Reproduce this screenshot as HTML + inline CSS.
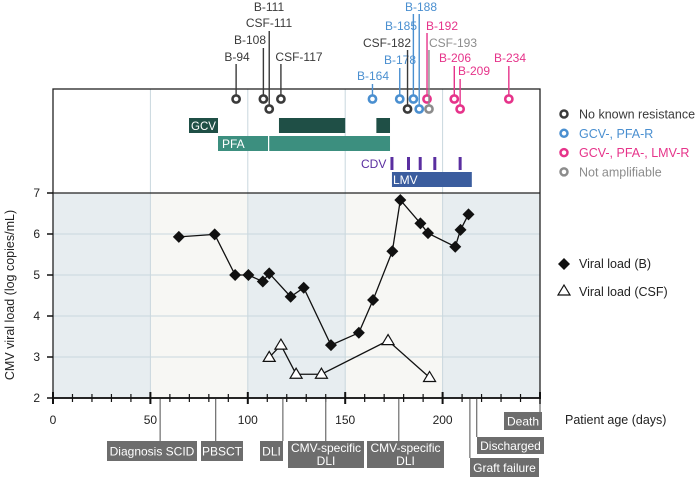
<!DOCTYPE html>
<html><head><meta charset="utf-8"><style>
html,body{margin:0;padding:0;background:#fff;width:700px;height:478px;overflow:hidden}
svg{display:block;font-family:"Liberation Sans",sans-serif}
</style></head><body>
<svg id="c" width="700" height="478" viewBox="0 0 700 478" xmlns="http://www.w3.org/2000/svg"></svg>
<script>
// ---- data ----
const bDays = [64.6, 83, 93.5, 100.3, 107.7, 111, 122, 128.7, 142.7, 157, 164.3, 174.2, 178.3, 188.6, 192.5, 206.5, 209.2, 213.3];
const bLoads = [5.93, 5.99, 5.0, 5.0, 4.84, 5.04, 4.47, 4.69, 3.29, 3.59, 4.39, 5.58, 6.83, 6.26, 6.02, 5.69, 6.1, 6.48];
const csfDays = [111, 117, 124.8, 137.8, 172, 193.3];
const csfLoads = [2.99, 3.29, 2.58, 2.58, 3.4, 2.5];
const xTicks = [0, 50, 100, 150, 200];
const yTicks = [2, 3, 4, 5, 6, 7];
const sampleLabels = ["B-94","B-108","B-111","CSF-111","CSF-117","B-164","B-178","CSF-182","B-185","B-188","B-192","CSF-193","B-206","B-209","B-234"];
const sampleDays = [94, 108, 111, 111, 117, 164, 178, 182, 185, 188, 192, 193, 206, 209, 234];
const sampleClass = [0,0,0,0,0,1,1,0,1,1,2,3,2,2,2];
const gcvStarts = [116, 166], gcvEnds = [150, 173];
const pfaStarts = [111], pfaEnds = [173];
const cdvDays = [174, 182.5, 188.5, 196, 209];
const lmvStart = 174, lmvEnd = 215;
const eventLabels = [["Diagnosis SCID"],["PBSCT"],["DLI"],["CMV-specific","DLI"],["CMV-specific","DLI"],["Graft failure"],["Discharged"],["Death"]];
const eventDays = [55, 83.5, 118, 140, 177.5, 214, 217.5, 250];

// ---- layout ----
const X0=53, X1=540, YT=193, YB=398, PT=89;
const xs = d => X0 + d*(X1-X0)/250;
const ys = v => YB - (v-2)*(YB-YT)/5;
const colors = ["#3a3a3a","#4a8fd0","#e6338a","#8c8c8c"];
const svg = document.getElementById('c');
const NS = "http://www.w3.org/2000/svg";
function mk(tag, attrs, parent){const e=document.createElementNS(NS,tag);for(const k in attrs)e.setAttribute(k,attrs[k]);(parent||svg).appendChild(e);return e;}
function txt(s,x,y,attrs){const e=mk('text',Object.assign({x:x,y:y},attrs||{}));e.textContent=s;return e;}

// bands
const bandColors=["#e7edf0","#f7f7f4","#e7edf0","#f7f7f4","#e7edf0"];
for(let i=0;i<5;i++){
  const b=mk('rect',{x:xs(i*50),y:YT,width:xs(i*50+50)-xs(i*50),height:YB-YT,fill:bandColors[i]});
  
  
}
// grid
yTicks.forEach(v=>{const g=mk('line',{x1:X0,x2:X1,y1:ys(v),y2:ys(v),stroke:"#c9d7de","stroke-width":1});
  });
xTicks.slice(1).forEach(d=>{const g=mk('line',{x1:xs(d),x2:xs(d),y1:PT,y2:YB,stroke:"#c9d7de","stroke-width":1});
  });
// frames
mk('rect',{x:X0,y:PT,width:X1-X0,height:YB-PT,fill:"none",stroke:"#222","stroke-width":1.3});
mk('line',{x1:X0,x2:X1,y1:YT,y2:YT,stroke:"#222","stroke-width":1.3});
mk('line',{x1:X0,x2:X1,y1:YB,y2:YB,stroke:"#111","stroke-width":1.8});
// x ticks
for(let d=0;d<=250;d+=10){const maj=d%50===0;
  mk('line',{x1:xs(d),x2:xs(d),y1:maj?YB-6:YB-4,y2:maj?YB+6:YB+4,stroke:"#111","stroke-width":maj?2:1.2});}
xTicks.forEach(d=>{const t=txt(String(d),xs(d),424,{"font-size":12,"text-anchor":"middle",fill:"#222"});
  });
// y ticks
yTicks.forEach(v=>{mk('line',{x1:X0-6,x2:X0,y1:ys(v),y2:ys(v),stroke:"#111","stroke-width":1.5});
  const t=txt(String(v),40,ys(v)+4,{"font-size":12,"text-anchor":"end",fill:"#222"});
  });
const yt=txt("CMV viral load (log copies/mL)",0,0,{"font-size":12.5,"text-anchor":"middle",fill:"#222",transform:"translate(14,295) rotate(-90)"});

const xt=txt("Patient age (days)",565,424,{"font-size":12.5,fill:"#222"});


// series
function poly(days,vals){return days.map((d,i)=>xs(d)+","+ys(vals[i])).join(" ");}
const lb=mk('polyline',{points:poly(bDays,bLoads),fill:"none",stroke:"#111","stroke-width":1.3});

bDays.forEach((d,i)=>{const x=xs(d),y=ys(bLoads[i]);
  const p=mk('polygon',{points:`${x},${y-6} ${x+6},${y} ${x},${y+6} ${x-6},${y}`,fill:"#111"});
  });
const lc=mk('polyline',{points:poly(csfDays,csfLoads),fill:"none",stroke:"#111","stroke-width":1.3});

csfDays.forEach((d,i)=>{const x=xs(d),y=ys(csfLoads[i]);
  const p=mk('polygon',{points:`${x},${y-6} ${x+6},${y+4} ${x-6},${y+4}`,fill:"#fff",stroke:"#111","stroke-width":1.2});
  });

// treatment bars
function bar(a,b,y,h,fill,name){const r=mk('rect',{x:xs(a),y:y,width:xs(b)-xs(a),height:h,fill:fill});
  return r;}
const gl=mk('rect',{x:189,y:118,width:29,height:15,fill:"#1f4f46"});
txt("GCV",191,130,{"font-size":11.5,fill:"#fff"});
gcvStarts.forEach((s,i)=>bar(s,gcvEnds[i],118,15,"#1f4f46",'gcv-bar'));
const pl=mk('rect',{x:218,y:136,width:50,height:15,fill:"#3c8f7f"});
txt("PFA",222,148,{"font-size":12,fill:"#fff"});
pfaStarts.forEach((s,i)=>bar(s,pfaEnds[i],136,15,"#3c8f7f",'pfa-bar'));
txt("CDV",361,168,{"font-size":12,fill:"#5a2ea0"});
cdvDays.forEach(d=>{const l=mk('line',{x1:xs(d),x2:xs(d),y1:157,y2:170,stroke:"#5a2ea0","stroke-width":3});
  });
bar(lmvStart,lmvEnd,172,15,"#3b5d9e",'lmv-bar');
txt("LMV",393,184,{"font-size":12,fill:"#fff"});

// samples
const labelPos=[[237,61],[250,44],[269,11],[269,27],[299,61],[373,80],[400,64],[387,47],[401,30],[421,11],[442,30],[453,47],[455,62],[474,75],[510,62]];
const stemTop=[64,48,31,31,64,84,68,50,14,14,33,50,66,79,66];
const row2=[2,7,9,11,13];
sampleDays.forEach((d,i)=>{
  const row = row2.includes(i)?109:99;
  const x=xs(d);
  const c=colors[sampleClass[i]];
  const lp=labelPos[i];
  if(i!==3){
    const s=mk('line',{x1:x,x2:x,y1:stemTop[i],y2:row-4,stroke:c,"stroke-width":1.4});
    
    const ci=mk('circle',{cx:x,cy:row,r:3.6,fill:"#fff",stroke:c,"stroke-width":2.6});
    
  }
  const t=txt(sampleLabels[i],lp[0],lp[1],{"font-size":12,"text-anchor":"middle",fill:c});
  
});

// legend
const legTexts=["No known resistance","GCV-, PFA-R","GCV-, PFA-, LMV-R","Not amplifiable"];
legTexts.forEach((s,i)=>{const y=114+i*19.3;
  const c=mk('circle',{cx:564,cy:y,r:3.5,fill:"#fff",stroke:colors[i],"stroke-width":2.5});
  
  const t=txt(s,579,y+4.5,{"font-size":12.5,fill:colors[i]});
  });
mk('polygon',{points:"564,258 570,264 564,270 558,264",fill:"#111"});
txt("Viral load (B)",579,268,{"font-size":12.5,fill:"#222"});
mk('polygon',{points:"564,285 570,295 558,295",fill:"#fff",stroke:"#111","stroke-width":1.2});
txt("Viral load (CSF)",579,296,{"font-size":12.5,fill:"#222"});

// events
const evBox=[[107,441,90,20],[201,441,42,20],[260,441,23,20],[288,441,76,27],[367,441,77,27],[470,458,69,19],[477,437,67,17],[504,412,38,18]];
eventDays.forEach((d,i)=>{const b=evBox[i];const x=xs(d);
  const ln=mk('line',{x1:x,x2:x,y1:YB+1,y2:b[1],stroke:"#777","stroke-width":1.3});
  
  const r=mk('rect',{x:b[0],y:b[1],width:b[2],height:b[3],fill:"#6d6d6d"});
  
  const lines=eventLabels[i];
  lines.forEach((s,j)=>{const ty = lines.length===1? b[1]+b[3]/2+4.5 : b[1]+11+j*13;
    const t=txt(s,b[0]+b[2]/2,ty,{"font-size":12,"text-anchor":"middle",fill:"#fff"});
    });
});
</script>
</body></html>
